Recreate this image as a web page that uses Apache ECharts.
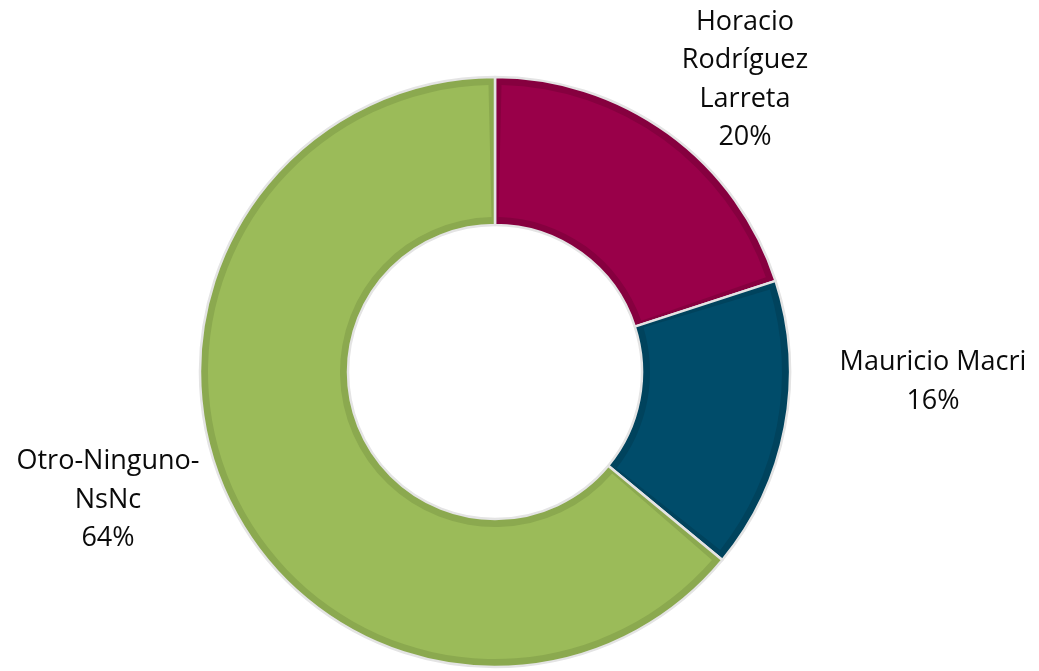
<!DOCTYPE html>
<html>
<head>
<meta charset="utf-8">
<script src="https://cdn.jsdelivr.net/npm/echarts@6/dist/echarts.min.js"></script>
<style>
  html, body { margin: 0; padding: 0; background: #ffffff; }
  #chart { width: 1039px; height: 671px; }
</style>
</head>
<body>
<div id="chart"></div>
<script>
// Encuesta: preferencia de candidato
const categories = ['Horacio Rodríguez Larreta', 'Mauricio Macri', 'Otro-Ninguno-NsNc'];
const shares = [20, 16, 64];

// Fill colours and their darker edge shades
const fillColors = ['#990049', '#004C6A', '#9BBB59'];
const edgeColors = ['#86003F', '#00435D', '#8BA94F'];

// Label anchor points (block centres)
const labelPos = [[745, 80], [933, 382], [108, 500]];

function wrapName(name) {
  if (name.length > 16) {
    return name.replace(/ /g, '\n').replace(/-(?=[^-]*$)/, '-\n');
  }
  return name;
}

const chart = echarts.init(document.getElementById('chart'));
const center = [495, 372];

chart.setOption({
  animation: false,
  series: [
    {
      type: 'pie',
      center: center,
      radius: [147, 295],
      startAngle: 90,
      clockwise: true,
      data: categories.map((c, i) => ({
        name: c,
        value: shares[i],
        itemStyle: { color: edgeColors[i] }
      })),
      itemStyle: { borderColor: '#E4E4E4', borderWidth: 2.5 },
      label: {
        show: true,
        formatter: p => wrapName(p.name) + '\n' + p.value + '%',
        fontFamily: '"Open Sans", Lato, sans-serif',
        fontSize: 27,
        lineHeight: 38.5,
        color: '#0a0a0a',
        align: 'center',
        overflow: 'none',
        width: 300
      },
      labelLine: { show: false },
      labelLayout: params => {
        const p = labelPos[params.dataIndex];
        return { x: p[0], y: p[1], align: 'center', verticalAlign: 'middle' };
      },
      emphasis: { disabled: true }
    },
    {
      type: 'pie',
      center: center,
      radius: [155, 287],
      startAngle: 90,
      clockwise: true,
      padAngle: 2.6,
      silent: true,
      data: categories.map((c, i) => ({
        name: c,
        value: shares[i],
        itemStyle: { color: fillColors[i] }
      })),
      label: { show: false },
      labelLine: { show: false },
      emphasis: { disabled: true }
    }
  ]
});
</script>
</body>
</html>
